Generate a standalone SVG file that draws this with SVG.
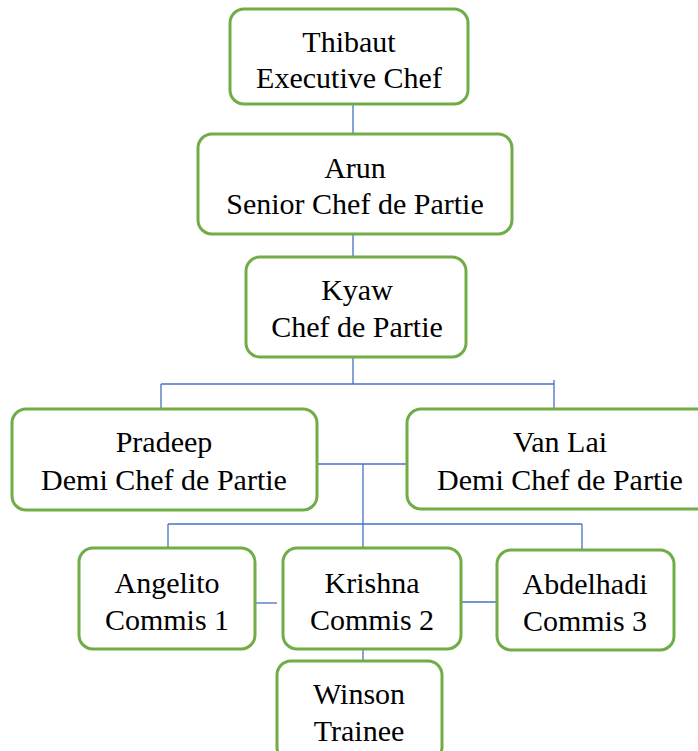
<svg xmlns="http://www.w3.org/2000/svg" width="698" height="751" viewBox="0 0 698 751">
<style>
.box{fill:#ffffff;stroke:#70AD47;stroke-width:3}
.lbl{font-size:30px;fill:#000000;text-anchor:middle}
.con{stroke:#4472C4;stroke-width:1.3;fill:none}
</style>
<rect width="698" height="751" fill="#ffffff"/>
<g id="connectors">
<line class="con" x1="353" y1="104" x2="353" y2="134"/>
<line class="con" x1="353" y1="234" x2="353" y2="257"/>
<line class="con" x1="353" y1="357" x2="353" y2="384"/>
<line class="con" x1="161" y1="384" x2="554" y2="384"/>
<line class="con" x1="161" y1="384" x2="161" y2="409"/>
<line class="con" x1="554" y1="380" x2="554" y2="409"/>
<line class="con" x1="309" y1="464" x2="407" y2="464"/>
<line class="con" x1="363" y1="464" x2="363" y2="548"/>
<line class="con" x1="168" y1="524" x2="582" y2="524"/>
<line class="con" x1="168" y1="524" x2="168" y2="548"/>
<line class="con" x1="582" y1="524" x2="582" y2="550"/>
<line class="con" x1="256" y1="603" x2="277" y2="603"/>
<line class="con" x1="457" y1="602" x2="497" y2="602"/>
<line class="con" x1="363" y1="649" x2="363" y2="661"/>
</g>
<g font-family="Liberation Serif, Tinos, Times New Roman, DejaVu Serif, serif">
<g id="thibaut">
<rect class="box" x="230" y="9" width="238" height="95" rx="14"/>
<text class="lbl" x="349" y="52">Thibaut</text>
<text class="lbl" x="349" y="88">Executive Chef</text>
</g>
<g id="arun">
<rect class="box" x="198" y="134" width="314" height="100" rx="14"/>
<text class="lbl" x="355" y="178">Arun</text>
<text class="lbl" x="355" y="214">Senior Chef de Partie</text>
</g>
<g id="kyaw">
<rect class="box" x="246" y="257" width="220" height="100" rx="14"/>
<text class="lbl" x="357" y="300">Kyaw</text>
<text class="lbl" x="357" y="337">Chef de Partie</text>
</g>
<g id="pradeep">
<rect class="box" x="12" y="409" width="305" height="101" rx="14"/>
<text class="lbl" x="164" y="452">Pradeep</text>
<text class="lbl" x="164" y="490">Demi Chef de Partie</text>
</g>
<g id="vanlai">
<rect class="box" x="407" y="409" width="306" height="100" rx="14"/>
<text class="lbl" x="560" y="452">Van Lai</text>
<text class="lbl" x="560" y="490">Demi Chef de Partie</text>
</g>
<g id="angelito">
<rect class="box" x="79" y="548" width="176" height="101" rx="14"/>
<text class="lbl" x="167" y="593">Angelito</text>
<text class="lbl" x="167" y="630">Commis 1</text>
</g>
<g id="krishna">
<rect class="box" x="283" y="548" width="178" height="101" rx="14"/>
<text class="lbl" x="372" y="593">Krishna</text>
<text class="lbl" x="372" y="630">Commis 2</text>
</g>
<g id="abdelhadi">
<rect class="box" x="497" y="550" width="177" height="100" rx="14"/>
<text class="lbl" x="585" y="594">Abdelhadi</text>
<text class="lbl" x="585" y="631">Commis 3</text>
</g>
<g id="winson">
<rect class="box" x="277" y="661" width="165" height="100" rx="14"/>
<text class="lbl" x="359" y="704">Winson</text>
<text class="lbl" x="359" y="741">Trainee</text>
</g>
</g>
</svg>
